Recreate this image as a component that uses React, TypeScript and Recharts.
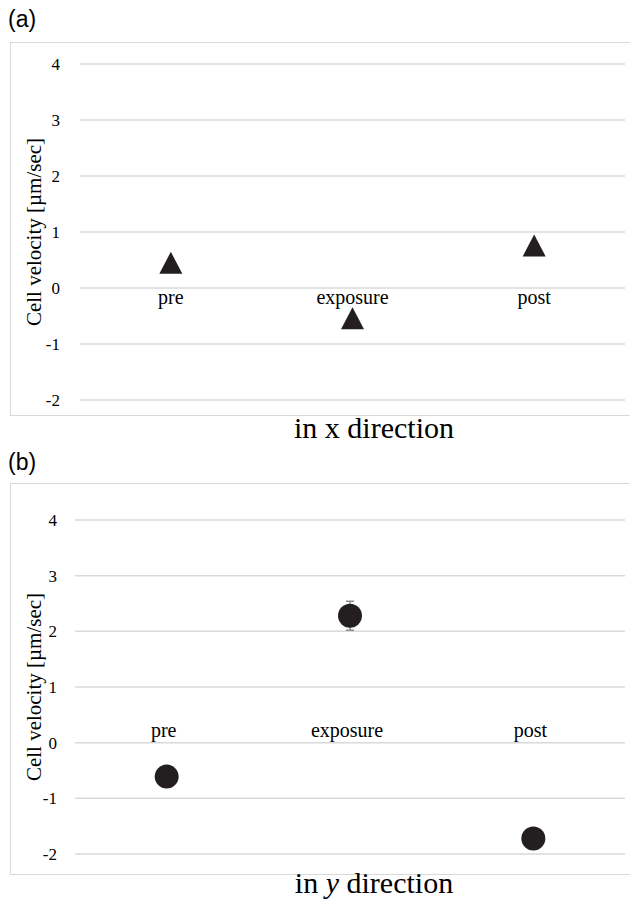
import { ComposedChart, Scatter, XAxis, YAxis, CartesianGrid, ErrorBar } from "recharts";

const categories = ["pre", "exposure", "post"];
const xVelocity = [0.45, -0.54, 0.76];
const yVelocity = [-0.61, 2.28, -1.72];
const yVelocityErr = [0, 0.26, 0];
const yTicks = [-2, -1, 0, 1, 2, 3, 4];

const SERIF = "'Liberation Serif', 'Times New Roman', serif";
const SANS = "'Liberation Sans', Arial, sans-serif";
const GRID = "#d9d9d9";
const INK = "#231f20";

const dataX = categories.map((c, i) => ({ cat: c, v: xVelocity[i] }));
const dataY = categories.map((c, i) => ({ cat: c, v: yVelocity[i], err: yVelocityErr[i] }));

const Triangle = (props: any) => {
    const { cx, cy } = props;
    if (cx == null || cy == null) return null;
    return (
        <path
            d={`M${cx},${cy - 11} L${cx + 11.5},${cy + 11} L${cx - 11.5},${cy + 11} Z`}
            fill={INK}
        />
    );
};

const Dot = (props: any) => {
    const { cx, cy } = props;
    if (cx == null || cy == null) return null;
    return <circle cx={cx} cy={cy} r={12} fill={INK} />;
};

// category labels sit on the zero line, not at the bottom of the plot
const catTick = (shift: number, dx: number) => (props: any) => {
    const { x, y, payload } = props;
    return (
        <text x={x + dx} y={y + shift} textAnchor="middle" fontFamily={SERIF} fontSize={20} fill="#000">
            {payload.value}
        </text>
    );
};

const valTick = (props: any) => {
    const { x, y, payload } = props;
    return (
        <text x={x} y={y + 6} textAnchor="end" fontFamily={SERIF} fontSize={17} fill="#000">
            {payload.value}
        </text>
    );
};

function Panel(props: {
    data: any[];
    height: number;
    yWidth: number;
    tickMargin: number;
    labelShift: number;
    labelDx: number;
    shape: any;
    withErr?: boolean;
}) {
    const plotMid = 64 + (props.height - 30 - 64) / 2;
    return (
        <ComposedChart
            width={630}
            height={props.height}
            data={props.data}
            margin={{ top: 64, right: 5, bottom: 0, left: 0 }}
        >
            <CartesianGrid horizontal vertical={false} stroke={GRID} strokeWidth={1.5} />
            <XAxis
                dataKey="cat"
                type="category"
                scale="band"
                axisLine={false}
                tickLine={false}
                height={30}
                interval={0}
                tick={catTick(props.labelShift, props.labelDx)}
            />
            <YAxis
                type="number"
                domain={[-2, 4]}
                ticks={yTicks}
                width={props.yWidth}
                axisLine={false}
                tickLine={false}
                tickSize={0}
                tickMargin={props.tickMargin}
                tick={valTick}
            />
            <Scatter dataKey="v" shape={props.shape} isAnimationActive={false}>
                {props.withErr && (
                    <ErrorBar dataKey="err" width={4} stroke="#8c8c8c" strokeWidth={1.5} direction="y" />
                )}
            </Scatter>
            <text
                x={41}
                y={plotMid}
                transform={`rotate(-90 41 ${plotMid})`}
                textAnchor="middle"
                fontFamily={SERIF}
                fontSize={21}
                fill="#000"
            >
                Cell velocity [µm/sec]
            </text>
        </ComposedChart>
    );
}

export default function App() {
    return (
        <div style={{ position: "absolute", left: 0, top: 0, width: 630, height: 901, background: "#fff", overflow: "hidden" }}>
            <div style={{ position: "absolute", left: 8, top: 6, fontFamily: SANS, fontSize: 23 }}>(a)</div>
            <div style={{ position: "absolute", left: 10, top: 42, width: 640, height: 372, border: `1.5px solid ${GRID}` }} />
            <div style={{ position: "absolute", left: 0, top: 0 }}>
                <Panel data={dataX} height={430} yWidth={80} tickMargin={20} labelShift={-104} labelDx={0} shape={Triangle} />
            </div>
            <div style={{ position: "absolute", left: 0, width: 748, textAlign: "center", top: 411, fontFamily: SERIF, fontSize: 30 }}>
                in x direction
            </div>

            <div style={{ position: "absolute", left: 8, top: 449, fontFamily: SANS, fontSize: 23 }}>(b)</div>
            <div style={{ position: "absolute", left: 10, top: 483, width: 640, height: 390, border: `1.5px solid ${GRID}` }} />
            <div style={{ position: "absolute", left: 0, top: 456 }}>
                <Panel data={dataY} height={428} yWidth={75} tickMargin={18} labelShift={-125} labelDx={-3} shape={Dot} withErr />
            </div>
            <div style={{ position: "absolute", left: 0, width: 748, textAlign: "center", top: 866, fontFamily: SERIF, fontSize: 30 }}>
                in <i>y</i> direction
            </div>
        </div>
    );
}
